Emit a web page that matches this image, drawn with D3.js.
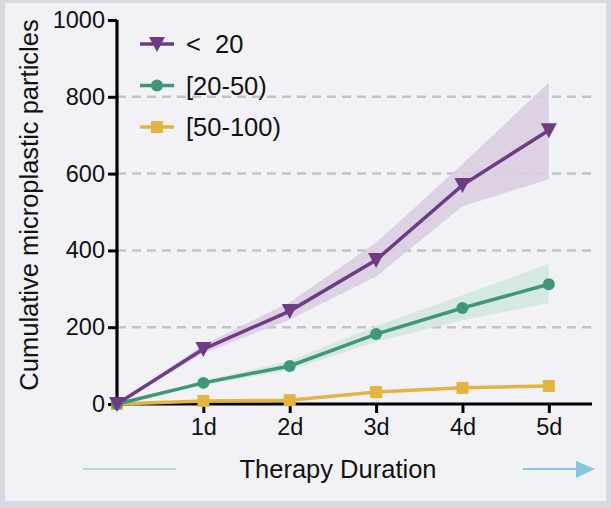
<!DOCTYPE html>
<html>
<head>
<meta charset="utf-8">
<script src="https://cdn.jsdelivr.net/npm/d3@7"></script>
<style>
  html, body { margin: 0; padding: 0; background: #ffffff; }
  #chart { width: 611px; height: 508px; }
  text { font-family: "Liberation Sans", Arial, sans-serif; fill: #111; }
</style>
</head>
<body>
<div id="chart"></div>
<script>
const days = [0, 1, 2, 3, 4, 5];
const dayLabels = ["1d", "2d", "3d", "4d", "5d"];
const yTicks = [0, 200, 400, 600, 800, 1000];
const gridTicks = [200, 400, 600, 800];

const seriesNames = ["<  20", "[20-50)", "[50-100)"];
const small = [0, 143, 242, 375, 570, 713];
const smallLow = [0, 132, 220, 332, 515, 585];
const smallHigh = [0, 154, 265, 420, 625, 837];
const medium = [0, 55, 99, 182, 250, 312];
const mediumLow = [0, 49, 88, 162, 218, 263];
const mediumHigh = [0, 61, 112, 204, 283, 365];
const large = [0, 8, 10, 31, 42, 47];

const theme = {
  purple: "#6f3b84",
  green: "#3f9777",
  yellow: "#e3b540",
  purpleBand: "#d9cee1",
  greenBand: "#d2e8e0",
  grid: "#c4c2ca",
  panel: "#f2f2f6",
  frame: "#d6d9e0",
};

const width = 611;
const height = 508;
const svg = d3.select("#chart").append("svg")
  .attr("width", width)
  .attr("height", height);

// frame
svg.append("rect").attr("x", 0).attr("y", 0).attr("width", width).attr("height", height).attr("fill", theme.frame);
svg.append("rect").attr("x", 5).attr("y", 3).attr("width", width - 10).attr("height", height - 10).attr("fill", theme.panel);

const margin = { left: 117, right: 19, top: 20, bottom: 104 };
const x = d3.scaleLinear().domain([0, 5.5]).range([margin.left, width - margin.right]);
const y = d3.scaleLinear().domain([0, 1000]).range([height - margin.bottom, margin.top]);

// dashed grid
svg.append("g").selectAll("line").data(gridTicks).enter().append("line")
  .attr("x1", x(0)).attr("x2", x(5.5))
  .attr("y1", (d) => y(d)).attr("y2", (d) => y(d))
  .attr("stroke", theme.grid).attr("stroke-width", 2.5)
  .attr("stroke-dasharray", "9,6");

// bands
const bands = [
  { low: smallLow, high: smallHigh, fill: theme.purpleBand },
  { low: mediumLow, high: mediumHigh, fill: theme.greenBand },
];
const area = d3.area()
  .x((d) => x(d.day))
  .y0((d) => y(d.low))
  .y1((d) => y(d.high));
bands.forEach((b) => {
  svg.append("path")
    .datum(days.map((day, i) => ({ day, low: b.low[i], high: b.high[i] })))
    .attr("d", area)
    .attr("fill", b.fill)
    .attr("fill-opacity", 0.9);
});

// axes
const xAxis = svg.append("g")
  .attr("transform", `translate(0, ${y(0)})`)
  .call(d3.axisBottom(x).tickValues([1, 2, 3, 4, 5]).tickFormat((d, i) => dayLabels[i]).tickSize(9).tickPadding(5));
const yAxis = svg.append("g")
  .attr("transform", `translate(${x(0)}, 0)`)
  .call(d3.axisLeft(y).tickValues(yTicks).tickFormat(d3.format("d")).tickSize(9).tickPadding(3));
[xAxis, yAxis].forEach((g) => {
  g.select(".domain").attr("stroke", "#000").attr("stroke-width", 3.2);
  g.selectAll(".tick line").attr("stroke", "#000").attr("stroke-width", 3);
  g.selectAll(".tick text").attr("font-size", 23.5).attr("fill", "#111")
    .attr("font-family", "Liberation Sans, Arial, sans-serif");
});
xAxis.select(".domain").attr("d", `M${x(0)},0H${x(5.5)}`);
yAxis.select(".domain").attr("d", `M0,${y(1000)}V${y(0)}`);

// lines
const lineGen = d3.line().x((d) => x(d.day)).y((d) => y(d.v));
const series = [
  { name: seriesNames[0], values: small, color: theme.purple, symbol: "tri" },
  { name: seriesNames[1], values: medium, color: theme.green, symbol: "circle" },
  { name: seriesNames[2], values: large, color: theme.yellow, symbol: "square" },
];

function drawMarker(g, type, color, cx, cy) {
  if (type === "tri") {
    g.append("path").attr("d", `M${cx - 8},${cy - 7}L${cx + 8},${cy - 7}L${cx},${cy + 8}Z`).attr("fill", color);
  } else if (type === "circle") {
    g.append("circle").attr("cx", cx).attr("cy", cy).attr("r", 6).attr("fill", color);
  } else {
    g.append("rect").attr("x", cx - 6).attr("y", cy - 6).attr("width", 12).attr("height", 12).attr("fill", color);
  }
}

series.slice().reverse().forEach((s) => {
  const pts = days.map((day, i) => ({ day, v: s.values[i] }));
  svg.append("path").datum(pts).attr("d", lineGen)
    .attr("fill", "none").attr("stroke", s.color).attr("stroke-width", 3.5);
  const g = svg.append("g");
  pts.forEach((p) => drawMarker(g, s.symbol, s.color, x(p.day), y(p.v)));
});

// legend
const legend = svg.append("g");
series.forEach((s, i) => {
  const ly = 44 + i * 41.5;
  legend.append("line").attr("x1", 140).attr("x2", 174).attr("y1", ly).attr("y2", ly)
    .attr("stroke", s.color).attr("stroke-width", 3.5);
  drawMarker(legend, s.symbol, s.color, 157, ly);
  legend.append("text").attr("x", 186).attr("y", ly + 9).attr("font-size", 25.5)
    .attr("xml:space", "preserve").style("white-space", "pre").text(s.name);
});

// axis titles
svg.append("text").attr("x", 338).attr("y", 478).attr("text-anchor", "middle")
  .attr("font-size", 25.5).text("Therapy Duration");
svg.append("text").attr("transform", "translate(38, 205) rotate(-90)")
  .attr("text-anchor", "middle").attr("font-size", 25.5).text("Cumulative microplastic particles");

// decorative arrows
svg.append("line").attr("x1", 83).attr("x2", 176).attr("y1", 469).attr("y2", 469)
  .attr("stroke", "#b3d8d6").attr("stroke-width", 2);
svg.append("line").attr("x1", 523).attr("x2", 580).attr("y1", 469).attr("y2", 469)
  .attr("stroke", "#86c6dc").attr("stroke-width", 2);
svg.append("path").attr("d", "M576,461L595,469L576,478Z").attr("fill", "#86c6dc");
</script>
</body>
</html>
